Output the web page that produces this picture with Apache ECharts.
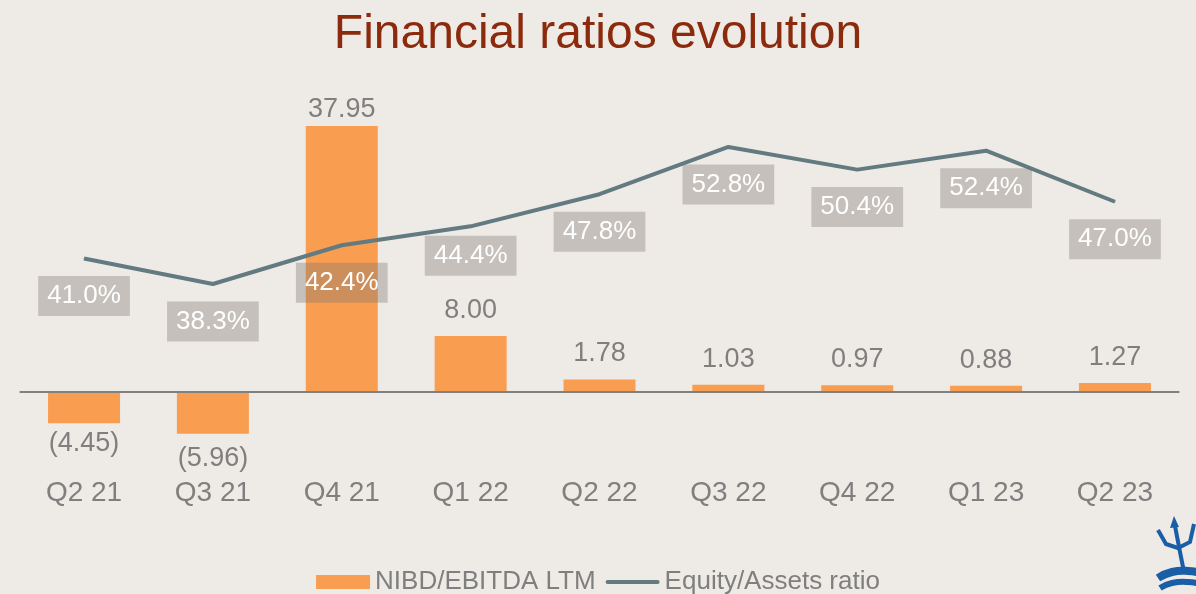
<!DOCTYPE html>
<html>
<head>
<meta charset="utf-8">
<title>Financial ratios evolution</title>
<script src="https://cdn.jsdelivr.net/npm/echarts@6/dist/echarts.min.js"></script>
<style>
  html, body { margin: 0; padding: 0; background: #eeeae6; }
  #chart { width: 1196px; height: 594px; }
</style>
</head>
<body>
<div id="chart"></div>
<script>
const quarters = ['Q2 21', 'Q3 21', 'Q4 21', 'Q1 22', 'Q2 22', 'Q3 22', 'Q4 22', 'Q1 23', 'Q2 23']
const nibdEbitda = [-4.45, -5.96, 37.95, 8.0, 1.78, 1.03, 0.97, 0.88, 1.27]
const equityRatio = [41.0, 38.3, 42.4, 44.4, 47.8, 52.8, 50.4, 52.4, 47.0]

const orange = '#f99d51'
const slate = '#627a80'
const grey = '#7f7f7f'
const logoBlue = '#1b5ea8'
const font = 'Liberation Sans, Arial, sans-serif'

const chart = echarts.init(document.getElementById('chart'))

// negative bars get their label underneath, the tall one sits a bit tighter
const barData = nibdEbitda.map((v, i) => ({
  value: v,
  label: { position: v < 0 ? 'bottom' : 'top', distance: v < 0 ? (i === 1 ? 11 : 7) : i === 2 ? 3 : 12 }
}))

// the 44.4% box sits a bit closer to the line than the others
const lineData = equityRatio.map((v, i) => (i === 3 ? { value: v, label: { distance: 9 } } : v))

const option = {
  backgroundColor: '#eeeae6',
  textStyle: { fontFamily: font },
  title: {
    text: 'Financial ratios evolution',
    left: 'center',
    top: 6,
    textStyle: { fontFamily: font, fontSize: 48, fontWeight: 'normal', color: '#8b2a0c' }
  },
  legend: {
    bottom: -6,
    left: 'center',
    itemWidth: 54,
    itemHeight: 14,
    itemGap: 10,
    textStyle: { fontFamily: font, fontSize: 26, color: grey },
    data: [
      { name: 'NIBD/EBITDA LTM', icon: 'rect' },
      { name: 'Equity/Assets ratio', icon: 'path://M2,0 L52,0 Q54,0 54,2 Q54,4 52,4 L2,4 Q0,4 0,2 Q0,0 2,0 Z' }
    ]
  },
  grid: { left: 19.6, right: 16.6, top: 111.6, bottom: 131.9 },
  xAxis: {
    type: 'category',
    data: quarters,
    axisLine: { show: false },
    axisTick: { show: false },
    axisLabel: { fontFamily: font, fontSize: 28, color: grey, margin: 17 }
  },
  yAxis: [
    { type: 'value', min: -10, max: 40, show: false, splitLine: { show: false } },
    { type: 'value', min: 19.45, max: 56.54, show: false, splitLine: { show: false } }
  ],
  series: [
    {
      name: 'NIBD/EBITDA LTM',
      type: 'bar',
      barWidth: 72,
      data: barData,
      itemStyle: { color: orange },
      label: {
        show: true,
        fontFamily: font,
        fontSize: 27,
        color: grey,
        formatter: p => (p.value < 0 ? '(' + Math.abs(p.value).toFixed(2) + ')' : p.value.toFixed(2))
      },
      markLine: {
        silent: true,
        symbol: 'none',
        label: { show: false },
        lineStyle: { color: '#808080', width: 2, type: 'solid' },
        data: [{ yAxis: 0 }]
      }
    },
    {
      name: 'Equity/Assets ratio',
      type: 'line',
      yAxisIndex: 1,
      data: lineData,
      symbol: 'circle',
      symbolSize: 1,
      showSymbol: true,
      lineStyle: { color: slate, width: 4 },
      itemStyle: { color: slate },
      label: {
        show: true,
        position: 'bottom',
        distance: 17,
        fontFamily: font,
        fontSize: 26,
        color: '#ffffff',
        backgroundColor: 'rgba(120,116,110,0.35)',
        padding: [7, 9, 7, 9],
        formatter: p => p.value.toFixed(1) + '%'
      }
    }
  ],
  // small trident logo in the bottom right corner
  graphic: [
    {
      type: 'group',
      left: 1154,
      top: 516,
      children: [
        {
          type: 'polyline',
          shape: { points: [[2, 64], [16, 58], [32, 57], [50, 60]], smooth: 0.5 },
          style: { stroke: logoBlue, lineWidth: 8, fill: null }
        },
        {
          type: 'polyline',
          shape: { points: [[4, 74], [16, 69], [32, 68], [50, 71]], smooth: 0.5 },
          style: { stroke: logoBlue, lineWidth: 6, fill: null }
        },
        {
          type: 'polyline',
          shape: { points: [[28, 58], [24, 38], [19, 12]] },
          style: { stroke: logoBlue, lineWidth: 4, fill: null }
        },
        {
          type: 'polyline',
          shape: { points: [[2, 16], [10, 30], [22, 34], [34, 28], [38, 10]] },
          style: { stroke: logoBlue, lineWidth: 4, fill: null }
        },
        {
          type: 'polygon',
          shape: { points: [[14, 14], [23, 13], [18, 2]] },
          style: { fill: logoBlue }
        }
      ]
    }
  ]
}

chart.setOption(option)
</script>
</body>
</html>
